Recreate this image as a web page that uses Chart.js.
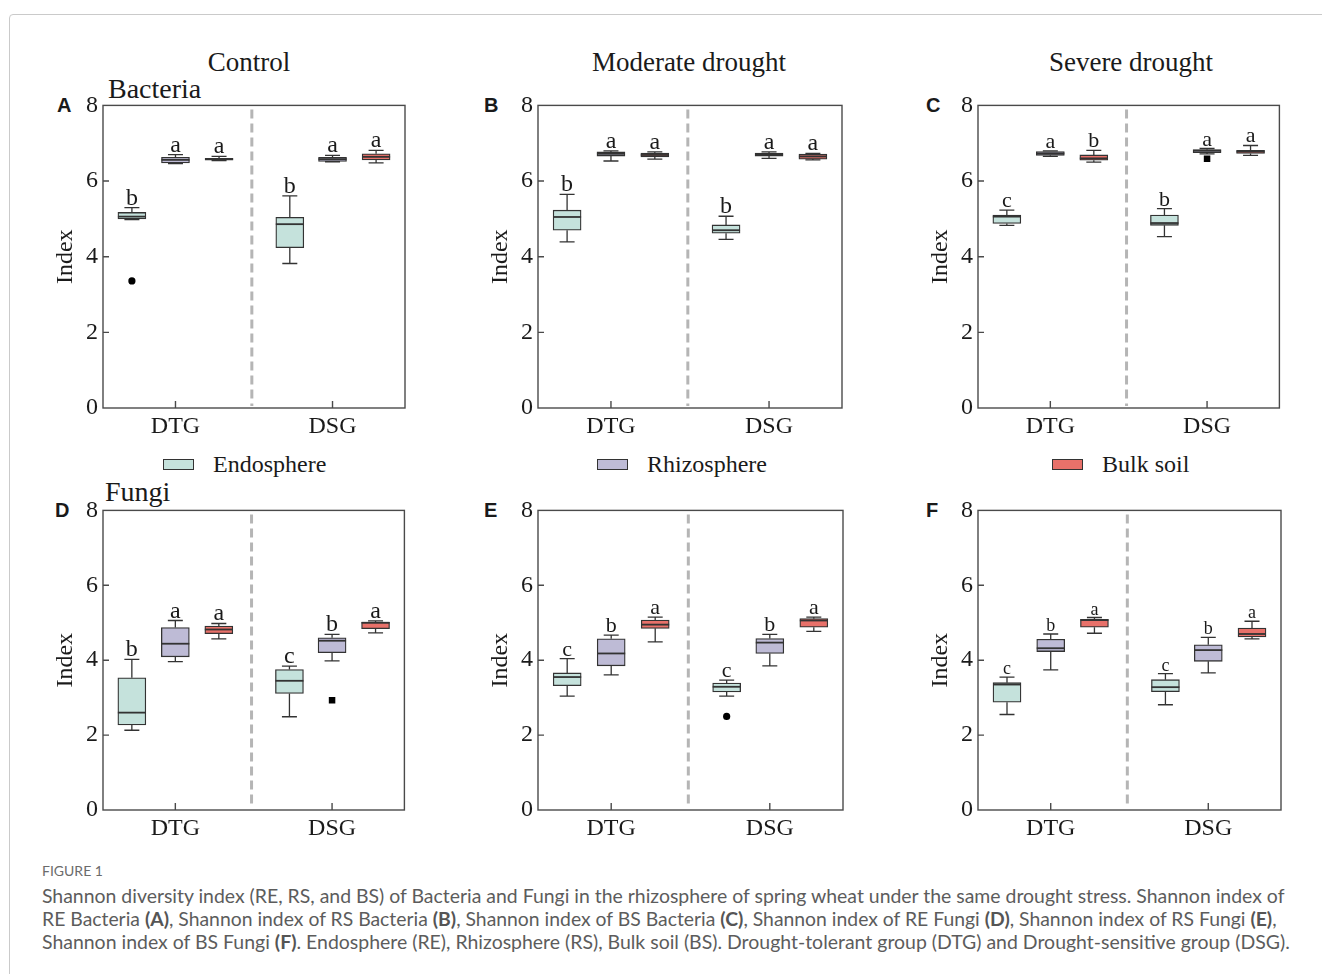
<!DOCTYPE html>
<html>
<head>
<meta charset="utf-8">
<script src="https://cdn.jsdelivr.net/npm/chart.js@4.4.0/dist/chart.umd.min.js"></script>
<style>
  body { margin: 0; background: #fff; width: 1322px; height: 974px; overflow: hidden; position: relative; font-family: "Liberation Serif", serif; color: #1a1a1a; }
  .frame { position: absolute; left: 9px; top: 14px; width: 1400px; height: 1000px; border: 1px solid #cacaca; border-radius: 4px; }
  .t { position: absolute; white-space: nowrap; line-height: 1; }
  .cond { font-size: 27px; transform: translateX(-50%); }
  .kind { font-size: 28px; }
  .plet { font-family: "Liberation Sans", Arial, sans-serif; font-weight: bold; font-size: 20px; }
  .leg { font-size: 24px; }
  .sw { position: absolute; width: 29px; height: 9px; border: 1px solid #333; }
  .cap { position: absolute; left: 42px; white-space: nowrap; font-family: Lato, "Open Sans", sans-serif; color: #5c5c5c; }
  .cap b { color: #555; }
  .panel { position: absolute; }
</style>
</head>
<body>
<div class="frame"></div>

<div class="t cond" style="left:249px;top:49px">Control</div>
<div class="t cond" style="left:689px;top:49px">Moderate drought</div>
<div class="t cond" style="left:1131px;top:49px">Severe drought</div>
<div class="t kind" style="left:108px;top:75px">Bacteria</div>
<div class="t kind" style="left:105px;top:478px">Fungi</div>

<div class="t plet" style="left:57px;top:95px">A</div>
<div class="t plet" style="left:484px;top:95px">B</div>
<div class="t plet" style="left:926px;top:95px">C</div>
<div class="t plet" style="left:55px;top:500px">D</div>
<div class="t plet" style="left:484px;top:500px">E</div>
<div class="t plet" style="left:926px;top:500px">F</div>

<div id="legend"></div>

<div class="cap" style="top:862px;font-size:14px;color:#6b6b6b">FIGURE 1</div>
<div class="cap capline" data-w="1243" style="top:884px;font-size:17.5px">Shannon diversity index (RE, RS, and BS) of Bacteria and Fungi in the rhizosphere of spring wheat under the same drought stress. Shannon index of</div>
<div class="cap capline" data-w="1236" style="top:907px;font-size:17.5px">RE Bacteria <b>(A)</b>, Shannon index of RS Bacteria <b>(B)</b>, Shannon index of BS Bacteria <b>(C)</b>, Shannon index of RE Fungi <b>(D)</b>, Shannon index of RS Fungi <b>(E)</b>,</div>
<div class="cap capline" data-w="1249" style="top:930px;font-size:17.5px">Shannon index of BS Fungi <b>(F)</b>. Endosphere (RE), Rhizosphere (RS), Bulk soil (BS). Drought-tolerant group (DTG) and Drought-sensitive group (DSG).</div>

<script>
const groups = ["DTG", "DSG"];
const seriesNames = ["Endosphere", "Rhizosphere", "Bulk soil"];
const seriesColors = ["#c5e2dc", "#bebbd6", "#e8716a"];
const yTicks = [0, 2, 4, 6, 8];

// x positions of boxes: DTG endo, rhizo, bulk, DSG endo, rhizo, bulk
const boxX = [0.67, 1.68, 2.69, 4.33, 5.32, 6.33];
const groupX = [1.68, 5.32];
const splitX = 3.45;

// each box: [min, q1, median, q3, max]
const boxesA = [[4.98, 5.0, 5.06, 5.17, 5.30], [6.46, 6.48, 6.56, 6.63, 6.70], [6.54, 6.55, 6.58, 6.60, 6.65],
                [3.82, 4.24, 4.86, 5.04, 5.61], [6.51, 6.52, 6.58, 6.63, 6.68], [6.48, 6.56, 6.64, 6.72, 6.81]];
const boxesB = [[4.39, 4.70, 5.05, 5.23, 5.65], [6.53, 6.66, 6.72, 6.77, 6.80], [6.58, 6.64, 6.69, 6.74, 6.77],
                [4.46, 4.62, 4.70, 4.84, 5.07], [6.60, 6.66, 6.70, 6.74, 6.77], [6.56, 6.58, 6.65, 6.71, 6.73]];
const boxesC = [[4.83, 4.88, 5.06, 5.10, 5.23], [6.65, 6.68, 6.73, 6.78, 6.80], [6.50, 6.55, 6.60, 6.69, 6.81],
                [4.53, 4.83, 4.89, 5.10, 5.27], [6.72, 6.75, 6.80, 6.83, 6.86], [6.68, 6.73, 6.78, 6.81, 6.94]];
const boxesD = [[2.13, 2.27, 2.60, 3.53, 4.02], [3.96, 4.09, 4.44, 4.87, 5.06], [4.57, 4.71, 4.82, 4.91, 4.98],
                [2.49, 3.11, 3.45, 3.75, 3.84], [3.98, 4.20, 4.52, 4.60, 4.69], [4.73, 4.84, 5.00, 5.01, 5.05]];
const boxesE = [[3.04, 3.32, 3.55, 3.66, 4.04], [3.61, 3.85, 4.18, 4.57, 4.67], [4.49, 4.85, 4.95, 5.07, 5.15],
                [3.04, 3.15, 3.29, 3.39, 3.47], [3.85, 4.18, 4.47, 4.58, 4.69], [4.77, 4.88, 5.06, 5.11, 5.15]];
const boxesF = [[2.55, 2.88, 3.35, 3.40, 3.55], [3.74, 4.23, 4.32, 4.56, 4.70], [4.72, 4.88, 5.07, 5.09, 5.14],
                [2.81, 3.16, 3.28, 3.48, 3.64], [3.66, 3.97, 4.27, 4.41, 4.61], [4.57, 4.62, 4.70, 4.86, 5.04]];

const lettersA = ["b", "a", "a", "b", "a", "a"];
const lettersB = ["b", "a", "a", "b", "a", "a"];
const lettersC = ["c", "a", "b", "b", "a", "a"];
const lettersD = ["b", "a", "a", "c", "b", "a"];
const lettersE = ["c", "b", "a", "c", "b", "a"];
const lettersF = ["c", "b", "a", "c", "b", "a"];

// outliers: [box index, value, shape]
const outliersA = [[0, 3.36, "circle"]];
const outliersB = [];
const outliersC = [[4, 6.59, "rect"]];
const outliersD = [[4, 2.93, "rect"]];
const outliersE = [[3, 2.50, "circle"]];
const outliersF = [];

const panels = [
  { boxes: boxesA, letters: lettersA, outliers: outliersA, left: 103, top: 105, w: 302, h: 303, ls: 24 },
  { boxes: boxesB, letters: lettersB, outliers: outliersB, left: 538, top: 105, w: 304, h: 303, ls: 24 },
  { boxes: boxesC, letters: lettersC, outliers: outliersC, left: 978, top: 105, w: 302, h: 303, ls: 22 },
  { boxes: boxesD, letters: lettersD, outliers: outliersD, left: 103, top: 510, w: 302, h: 300, ls: 24 },
  { boxes: boxesE, letters: lettersE, outliers: outliersE, left: 538, top: 510, w: 305, h: 300, ls: 22 },
  { boxes: boxesF, letters: lettersF, outliers: outliersF, left: 978, top: 510, w: 303, h: 300, ls: 18 },
];

const serif = "'Liberation Serif', 'Times New Roman', serif";
const ink = "#1a1a1a";

// legend
const legendPos = [[163, 213], [597, 647], [1052, 1102]];
const legend = document.getElementById("legend");
seriesNames.forEach((name, i) => {
  const sw = document.createElement("div");
  sw.className = "sw";
  sw.style.left = legendPos[i][0] + "px";
  sw.style.top = "459px";
  sw.style.background = seriesColors[i];
  legend.appendChild(sw);
  const tx = document.createElement("div");
  tx.className = "t leg";
  tx.style.left = legendPos[i][1] + "px";
  tx.style.top = "452px";
  tx.textContent = name;
  legend.appendChild(tx);
});

const boxPlugin = (p) => ({
  id: "boxExtras",
  beforeDatasetsDraw(chart) {
    const { ctx, chartArea: a, scales: { x } } = chart;
    const sx = x.getPixelForValue(splitX);
    ctx.save();
    ctx.strokeStyle = "#b5b5b5";
    ctx.lineWidth = 3;
    ctx.setLineDash([9, 5]);
    ctx.beginPath();
    ctx.moveTo(sx, a.top + 4);
    ctx.lineTo(sx, a.bottom - 2);
    ctx.stroke();
    ctx.restore();
  },
  afterDatasetsDraw(chart) {
    const { ctx, chartArea: a, scales: { x, y } } = chart;
    ctx.save();
    ctx.strokeStyle = "#333";
    ctx.lineWidth = 1.3;
    p.boxes.forEach((b, i) => {
      const cx = x.getPixelForValue(boxX[i]);
      const [mn, q1, md, q3, mx] = b.map(v => y.getPixelForValue(v));
      ctx.beginPath();
      ctx.moveTo(cx, q3); ctx.lineTo(cx, mx);
      ctx.moveTo(cx, q1); ctx.lineTo(cx, mn);
      ctx.moveTo(cx - 7.5, mx); ctx.lineTo(cx + 7.5, mx);
      ctx.moveTo(cx - 7.5, mn); ctx.lineTo(cx + 7.5, mn);
      ctx.stroke();
      ctx.save();
      ctx.lineWidth = 1.8;
      ctx.beginPath();
      ctx.moveTo(cx - 14, md); ctx.lineTo(cx + 14, md);
      ctx.stroke();
      ctx.restore();
      ctx.fillStyle = ink;
      ctx.font = p.ls + "px " + serif;
      ctx.textAlign = "center";
      ctx.textBaseline = "alphabetic";
      ctx.fillText(p.letters[i], cx, mx - 3);
    });
    // frame and inward ticks
    ctx.strokeStyle = "#4a4a4a";
    ctx.lineWidth = 1.4;
    ctx.strokeRect(a.left, a.top, a.right - a.left, a.bottom - a.top);
    ctx.beginPath();
    yTicks.slice(1, -1).forEach(v => {
      const py = y.getPixelForValue(v);
      ctx.moveTo(a.left, py); ctx.lineTo(a.left + 6, py);
    });
    groupX.forEach(v => {
      const px = x.getPixelForValue(v);
      ctx.moveTo(px, a.bottom); ctx.lineTo(px, a.bottom - 7);
    });
    ctx.stroke();
    ctx.restore();
  }
});

const padTop = 16, padRight = 4, yW = 63, xH = 40;

function buildChart(p, wrap, W, H) {
  wrap.innerHTML = "";
  const cv = document.createElement("canvas");
  cv.width = W;
  cv.height = H;
  wrap.appendChild(cv);

  const barSets = seriesNames.map((name, si) => ({
    type: "bar",
    label: name,
    data: [0, 1].map(g => {
      const b = p.boxes[g * 3 + si];
      return { x: boxX[g * 3 + si], y: [b[1], b[3]] };
    }),
    backgroundColor: seriesColors[si],
    borderColor: "#333",
    borderWidth: 1.3,
    borderSkipped: false,
    barThickness: 28,
    grouped: false,
  }));

  const outSet = {
    type: "scatter",
    label: "outliers",
    data: p.outliers.map(o => ({ x: boxX[o[0]], y: o[1] })),
    pointStyle: p.outliers.map(o => o[2]),
    pointRadius: p.outliers.map(o => (o[2] === "rect" ? 4.6 : 3.6)),
    backgroundColor: "#000",
    borderColor: "#000",
    borderWidth: 0,
  };

  return new Chart(cv, {
    type: "bar",
    data: { datasets: [...barSets, outSet] },
    options: {
      responsive: false,
      animation: false,
      events: [],
      layout: { padding: { top: padTop, right: padRight, left: 0, bottom: 0 } },
      plugins: { legend: { display: false }, tooltip: { enabled: false } },
      scales: {
        x: {
          type: "linear",
          min: 0,
          max: 7,
          offset: false,
          afterBuildTicks: s => { s.ticks = groupX.map(v => ({ value: v })); },
          afterFit: s => { s.height = xH; },
          ticks: { callback: (v, i) => groups[i], font: { family: serif, size: 24 }, color: ink, padding: 4, maxRotation: 0 },
          grid: { display: false, drawTicks: false },
          border: { display: false },
        },
        y: {
          min: 0,
          max: 8,
          afterBuildTicks: s => { s.ticks = yTicks.map(v => ({ value: v })); },
          afterFit: s => { s.width = yW; },
          ticks: { font: { family: serif, size: 24 }, color: ink, padding: 5 },
          grid: { display: false, drawTicks: false },
          border: { display: false },
          title: { display: true, text: "Index", font: { family: serif, size: 24 }, color: ink, padding: { top: 11, bottom: 0 } },
        },
      },
    },
    plugins: [boxPlugin(p)],
  });
}

panels.forEach(p => {
  const wrap = document.createElement("div");
  wrap.className = "panel";
  document.body.appendChild(wrap);
  let W = yW + p.w + padRight, H = padTop + p.h + xH;
  let chart = buildChart(p, wrap, W, H);
  // correct canvas size so the plot area lands on the figure's frame
  const a = chart.chartArea;
  const dw = p.w - (a.right - a.left), dh = p.h - (a.bottom - a.top);
  if (Math.abs(dw) > 0.5 || Math.abs(dh) > 0.5) {
    chart.destroy();
    W += dw; H += dh;
    chart = buildChart(p, wrap, W, H);
  }
  const a2 = chart.chartArea;
  wrap.style.left = (p.left - a2.left) + "px";
  wrap.style.top = (p.top - a2.top) + "px";
});

// fit caption lines to their measured width in the figure
document.querySelectorAll(".capline").forEach(el => {
  const target = +el.dataset.w;
  const size = parseFloat(el.style.fontSize);
  const w = el.getBoundingClientRect().width;
  el.style.fontSize = (size * target / w).toFixed(2) + "px";
});
</script>
</body>
</html>
